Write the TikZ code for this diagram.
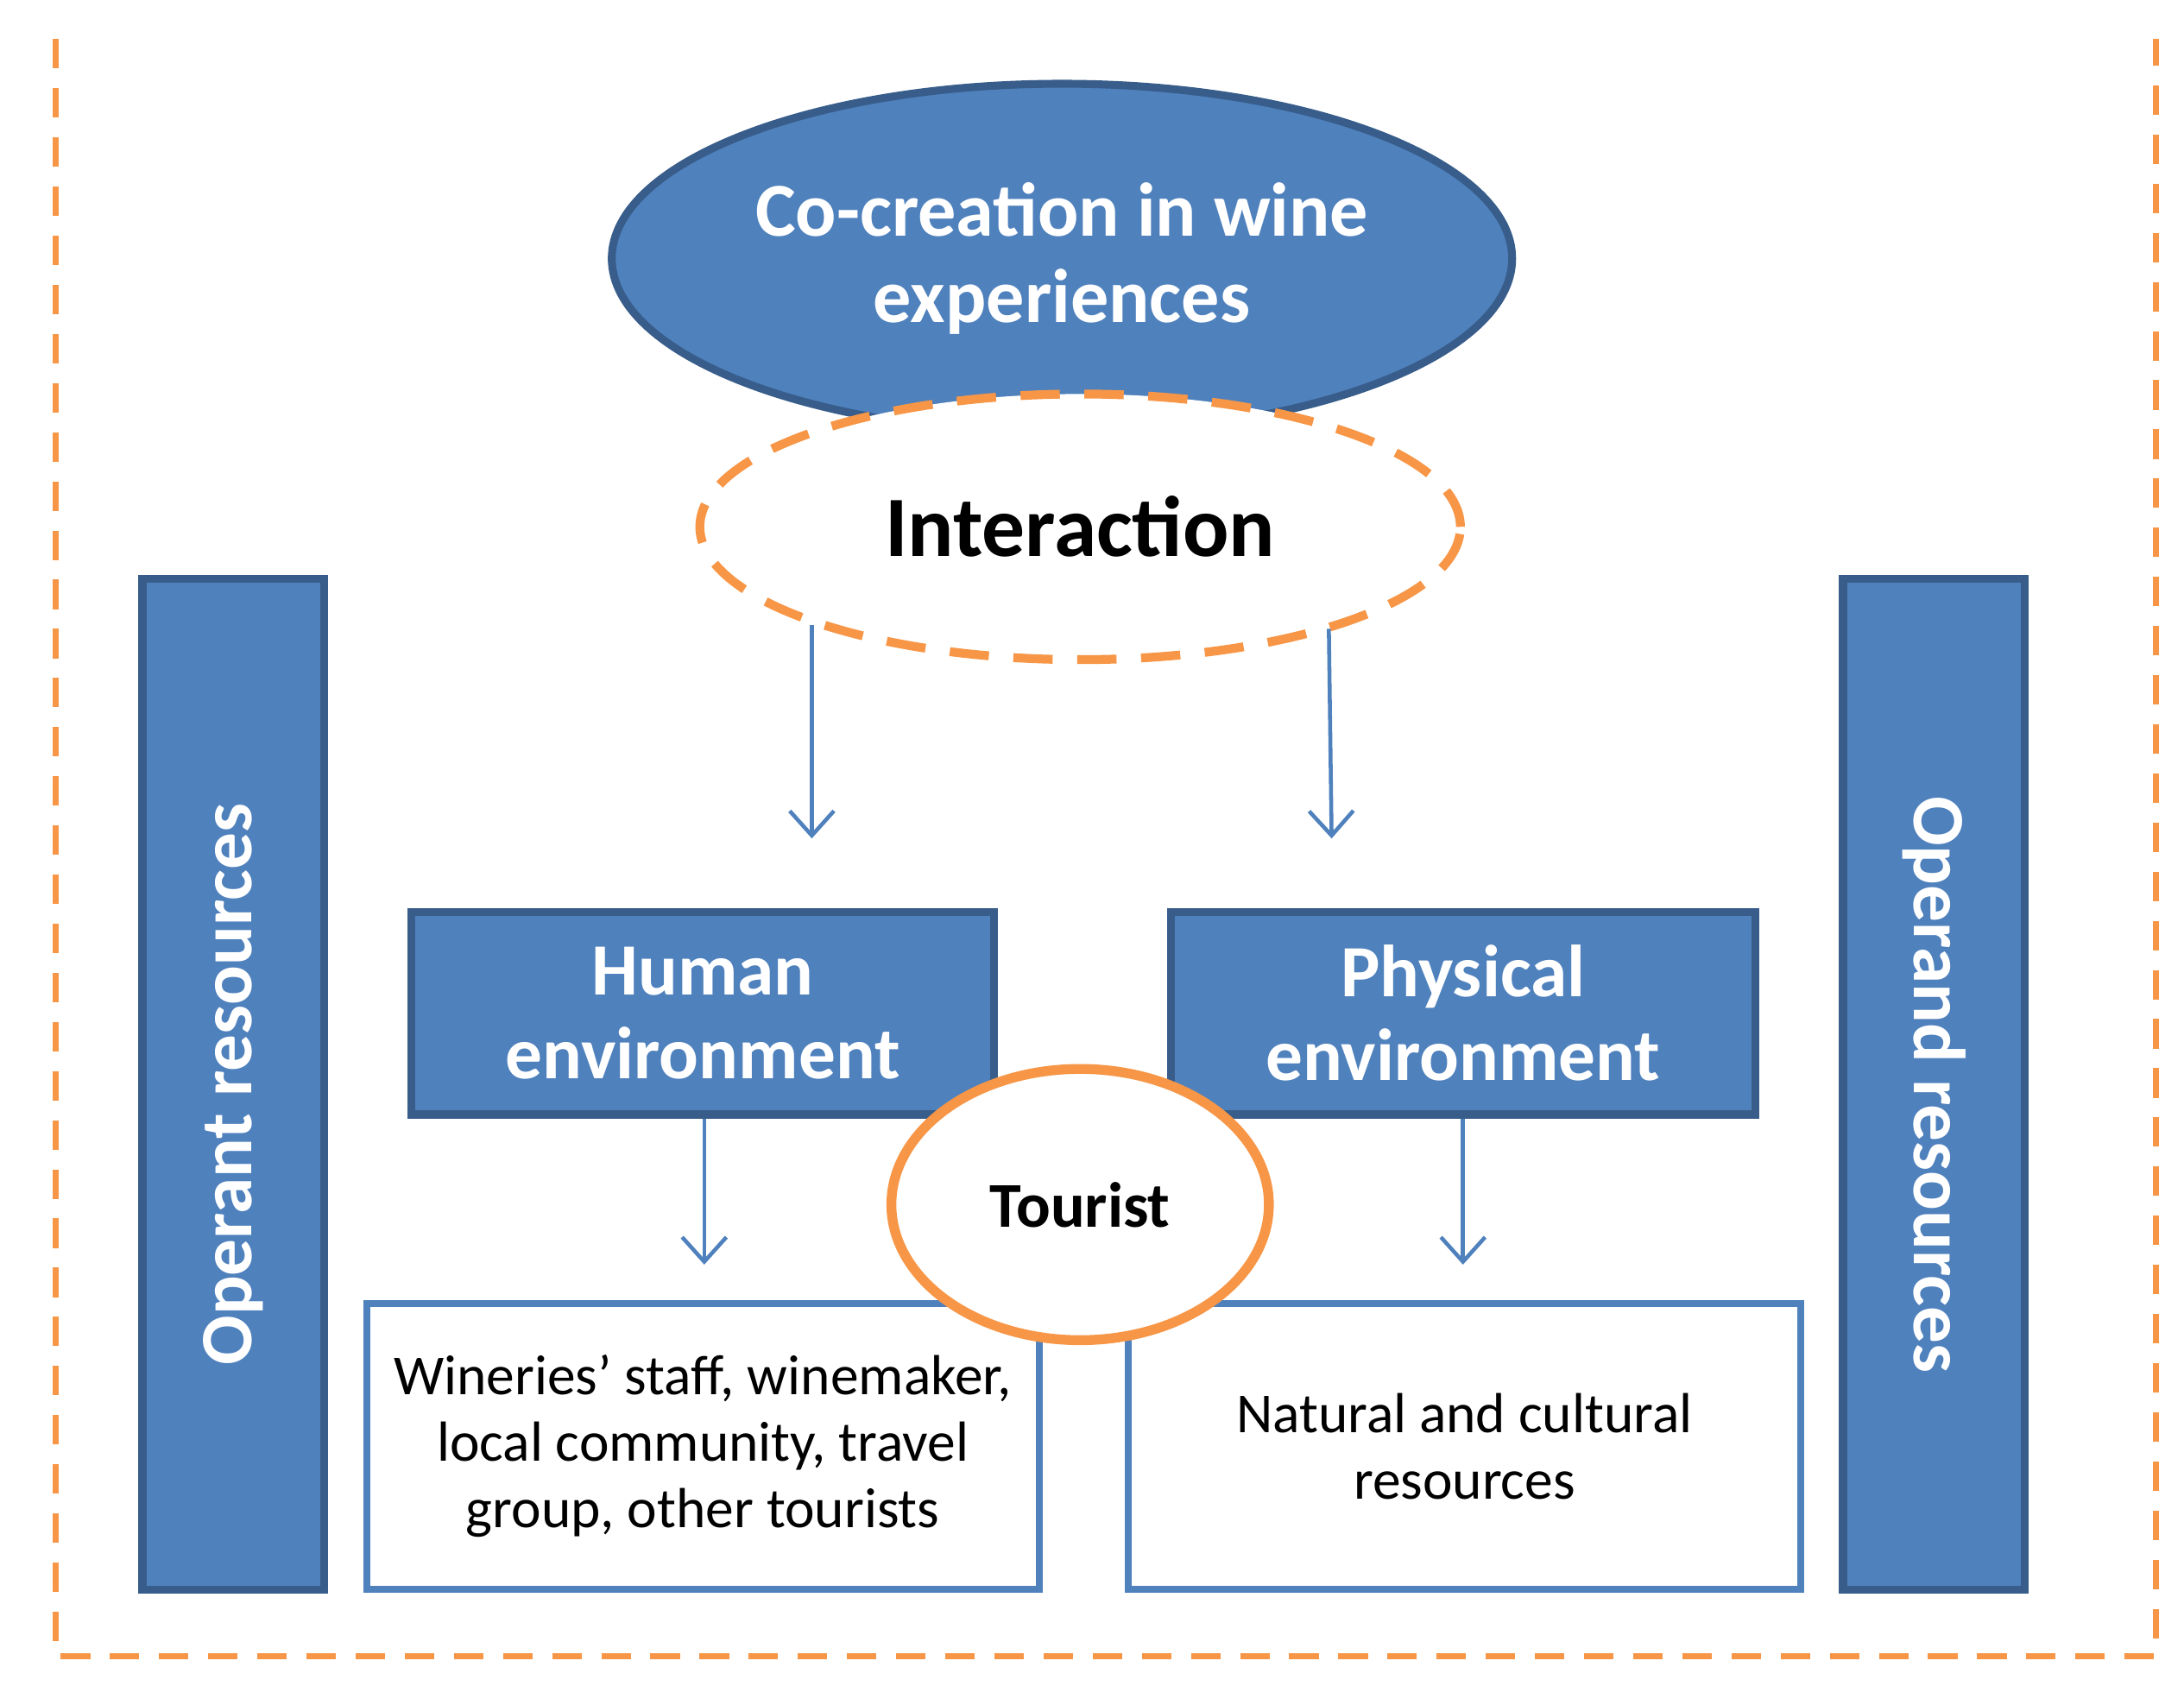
\documentclass[tikz,border=0pt]{standalone}
\usepackage{fontspec}
\setmainfont{Carlito}
\usetikzlibrary{positioning,arrows.meta,shapes.geometric}
\definecolor{boxblue}{HTML}{4F81BD}
\definecolor{edgeblue}{HTML}{385D8A}
\definecolor{dashorange}{HTML}{F79646}

\begin{document}
\begin{tikzpicture}[x=0.01cm,y=-0.01cm,
  blue box/.style={rectangle,draw=edgeblue,line width=1.6pt,fill=boxblue,text=white,
    font=\fontsize{15}{17}\selectfont\bfseries,align=center,inner sep=0pt},
  white box/.style={rectangle,draw=boxblue,line width=1.4pt,fill=white,
    font=\fontsize{11.5}{13.5}\selectfont,align=center,inner sep=0pt},
  down arrow/.style={-{Straight Barb[length=5pt,width=9pt]},draw=boxblue,line width=0.8pt}]

  \useasboundingbox (0,0) rectangle (1563,1206);

  % frame
  \draw[dashorange,dashed,line width=1.2pt,dash pattern=on 6pt off 4pt]
    (40,28) -- (40,1185) -- (1543,1185) -- (1543,28);

  % ellipses
  \node[ellipse,draw=edgeblue,line width=1.6pt,fill=boxblue,text=white,inner sep=0pt,
    font=\fontsize{15.5}{17.5}\selectfont\bfseries,align=center,minimum width=6.44cm,minimum height=2.5cm]
    (cocreation) at (760,185) {Co-creation in wine\\experiences};
  \node[ellipse,draw=dashorange,dashed,dash pattern=on 8pt off 5pt,line width=1.8pt,fill=white,inner sep=0pt,
    font=\fontsize{17.5}{20}\selectfont\bfseries,minimum width=5.44cm,minimum height=1.9cm]
    (interaction) at (773,377) {Interaction};

  % side bars
  \node[blue box,minimum width=1.3cm,minimum height=7.23cm] (operant) at (167,776) {};
  \node[rotate=90,text=white,font=\fontsize{15}{17}\selectfont\bfseries] at (operant.center) {Operant resources};
  \node[blue box,minimum width=1.3cm,minimum height=7.23cm] (operand) at (1384,776) {};
  \node[rotate=-90,text=white,font=\fontsize{15}{17}\selectfont\bfseries] at (operand.center) {Operand resources};

  % environments
  \node[blue box,minimum width=4.17cm,minimum height=1.45cm] (human) at (503,725) {Human\\environment};
  \node[blue box,minimum width=4.18cm,minimum height=1.45cm] (physical) at (1047,725) {Physical\\environment};

  \node[white box,minimum width=4.81cm,minimum height=2.04cm] (actors) at (503,1035)
    {Wineries' staff, winemaker,\\local community, travel\\group, other tourists};
  \node[white box,minimum width=4.81cm,minimum height=2.04cm] (resources) at (1048,1035)
    {Natural and cultural\\resources};

  \node[ellipse,draw=dashorange,line width=2pt,fill=white,inner sep=0pt,
    font=\fontsize{13}{15}\selectfont\bfseries,minimum width=2.7cm,minimum height=1.94cm]
    (tourist) at (773,862) {Tourist};

  % arrows
  \coordinate (h0) at (581,447);
  \coordinate (h1) at (581,600);
  \coordinate (p0) at (951,450);
  \coordinate (p1) at (953,600);
  \coordinate (h2) at (504,905);
  \coordinate (p2) at (1047,905);
  \draw[down arrow] (h0) -- (h1);
  \draw[down arrow] (p0) -- (p1);
  \draw[down arrow] (human.south -| h2) -- (h2);
  \draw[down arrow] (physical.south -| p2) -- (p2);
\end{tikzpicture}
\end{document}
